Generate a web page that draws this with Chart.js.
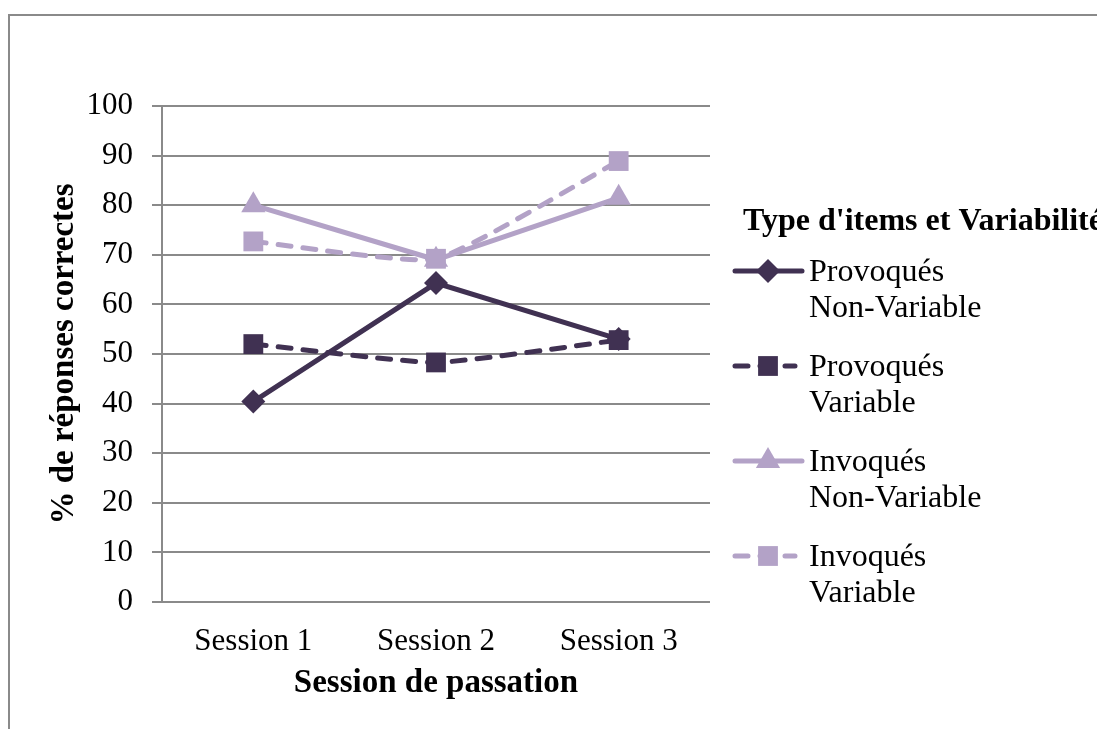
<!DOCTYPE html>
<html>
<head>
<meta charset="utf-8">
<script src="https://cdn.jsdelivr.net/npm/chart.js"></script>
<style>
  html, body { margin: 0; padding: 0; background: #fff; overflow: hidden; }
  #frame { position: absolute; left: 8px; top: 14px; width: 1200px; height: 800px; border: 2px solid #8a8a8a; }
  #wrap { position: absolute; left: 0; top: 0; width: 1097px; height: 729px; }
</style>
</head>
<body>
<div id="frame"></div>
<div id="wrap"><canvas id="myChart" width="1097" height="729"></canvas></div>
<script>
var sessions = ['Session 1', 'Session 2', 'Session 3'];
var provNonVar = [40.4, 64.3, 53.0];
var provVar = [52.0, 48.3, 52.8];
var invNonVar = [80.0, 69.0, 81.5];
var invVar = [72.7, 69.2, 88.9];
var seriesNames = [['Provoqués', 'Non-Variable'], ['Provoqués', 'Variable'],
                   ['Invoqués', 'Non-Variable'], ['Invoqués', 'Variable']];

var dark = '#403152';
var light = '#b3a2c7';
var gridCol = '#8a8a8a';
var serif = "'Liberation Serif', 'Times New Roman', serif";

// legend drawn by hand, Chart.js legend can't do 2-line labels
var sideLegend = {
  id: 'sideLegend',
  afterDraw: function(chart) {
    var ctx = chart.ctx;
    ctx.save();
    ctx.fillStyle = '#000';
    ctx.textBaseline = 'middle';
    ctx.textAlign = 'left';
    ctx.font = 'bold 32px ' + serif;
    ctx.fillText("Type d'items et Variabilité", 743, 222);
    chart.data.datasets.forEach(function(ds, i) {
      var y = 271 + i * 95;
      ctx.save();
      ctx.strokeStyle = ds.borderColor;
      ctx.lineWidth = ds.borderWidth;
      ctx.lineCap = 'round';
      ctx.setLineDash(ds.borderDash || []);
      ctx.beginPath();
      ctx.moveTo(735, y);
      ctx.lineTo(ds.borderDash ? 795 : 802, y);
      ctx.stroke();
      ctx.setLineDash([]);
      ctx.fillStyle = ds.pointBackgroundColor;
      ctx.strokeStyle = ds.pointBackgroundColor;
      Chart.helpers.drawPoint(ctx, { pointStyle: ds.pointStyle, radius: ds.pointRadius, rotation: 0, borderWidth: 0 }, 768, y);
      ctx.restore();
      ctx.font = '32px ' + serif;
      ctx.fillStyle = '#000';
      ctx.fillText(seriesNames[i][0], 809, y + 2);
      ctx.fillText(seriesNames[i][1], 809, y + 38);
    });
    ctx.restore();
  }
};

function series(data, color, dashed, style, r, order) {
  return {
    data: data,
    borderColor: color,
    backgroundColor: color,
    pointBackgroundColor: color,
    pointBorderColor: color,
    pointBorderWidth: 0,
    borderWidth: 5,
    borderDash: dashed ? [13, 12] : undefined,
    borderCapStyle: 'round',
    pointStyle: style,
    pointRadius: r,
    tension: dashed ? 0.15 : 0,
    order: order
  };
}

var ctx = document.getElementById('myChart').getContext('2d');
var myChart = new Chart(ctx, {
  type: 'line',
  data: {
    labels: sessions,
    datasets: [
      series(provNonVar, dark, false, 'rectRot', 12, 3),
      series(provVar, dark, true, 'rect', 14, 2),
      series(invNonVar, light, false, 'triangle', 14, 1),
      series(invVar, light, true, 'rect', 14, 0)
    ]
  },
  plugins: [sideLegend],
  options: {
    responsive: false,
    animation: false,
    layout: { padding: { left: 45, top: 106, right: 387, bottom: 26 } },
    plugins: {
      legend: { display: false },
      tooltip: { enabled: false }
    },
    scales: {
      x: {
        offset: true,
        grid: { display: false, drawTicks: false },
        border: { display: false },
        ticks: { color: '#000', padding: 21, font: { family: serif, size: 31 } },
        title: {
          display: true,
          text: 'Session de passation',
          color: '#000',
          padding: 0,
          font: { family: serif, size: 33, weight: 'bold' }
        },
        afterFit: function(axis) { axis.height = 101; }
      },
      y: {
        min: 0,
        max: 100,
        ticks: { stepSize: 10, color: '#000', padding: 19, font: { family: serif, size: 31 } },
        grid: { color: gridCol, lineWidth: 2, tickLength: 10 },
        border: { display: true, color: gridCol, width: 2 },
        title: {
          display: true,
          text: '% de réponses correctes',
          color: '#000',
          padding: 0,
          font: { family: serif, size: 33, weight: 'bold' }
        },
        afterFit: function(axis) { axis.width = 117; }
      }
    }
  }
});
</script>
</body>
</html>
